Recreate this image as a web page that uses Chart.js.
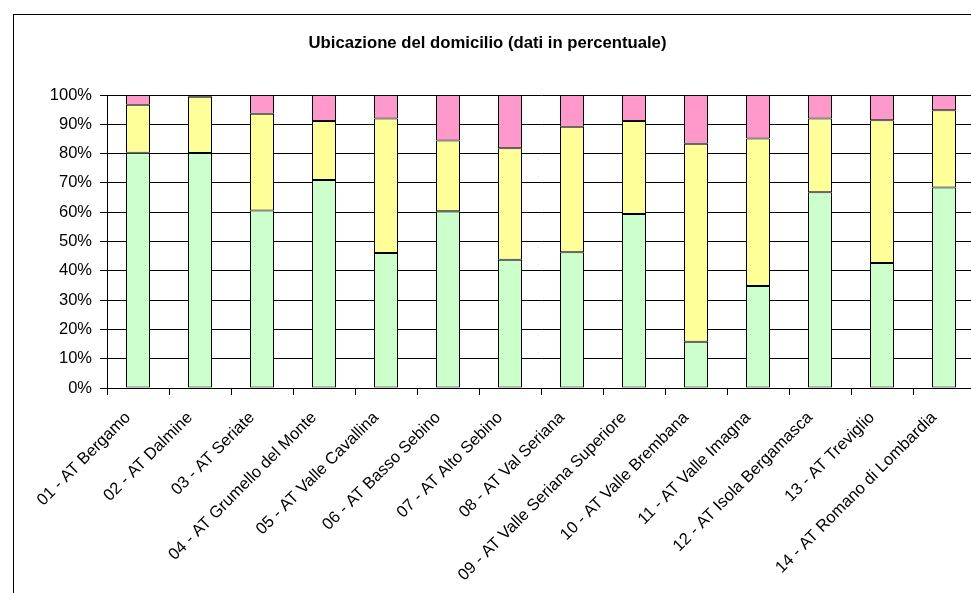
<!DOCTYPE html>
<html lang="it">
<head>
<meta charset="utf-8">
<title>Ubicazione del domicilio</title>
<script src="https://cdn.jsdelivr.net/npm/chart.js@4.4.1/dist/chart.umd.min.js"></script>
<style>
  html, body {
    margin: 0;
    padding: 0;
    background: #fff;
    overflow: hidden;
  }
  #frame {
    position: absolute;
    left: 13px;
    top: 14px;
    width: 1200px;
    height: 800px;
    border: 1px solid #000;
  }
  #chart {
    position: absolute;
    left: 0;
    top: 0;
  }
</style>
</head>
<body>
<div id="frame"></div>
<canvas id="chart" width="975" height="600"></canvas>
<script>
const categories = [
  "01 - AT Bergamo",
  "02 - AT Dalmine",
  "03 - AT Seriate",
  "04 - AT Grumello del Monte",
  "05 - AT Valle Cavallina",
  "06 - AT Basso Sebino",
  "07 - AT Alto Sebino",
  "08 - AT Val Seriana",
  "09 - AT Valle Seriana Superiore",
  "10 - AT Valle Brembana",
  "11 - AT Valle Imagna",
  "12 - AT Isola Bergamasca",
  "13 - AT Treviglio",
  "14 - AT Romano di Lombardia",
];

// percent shares, bottom to top
const greenValues = [80.3, 80.2, 60.6, 71.0, 46.1, 60.3, 43.8, 46.3, 59.4, 15.8, 34.8, 66.8, 42.7, 68.4];
const yellowValues = [16.4, 19.2, 33.0, 20.1, 45.9, 24.2, 38.0, 42.9, 31.7, 67.6, 50.4, 25.2, 48.7, 26.4];
const pinkValues = [3.3, 0.6, 6.4, 8.9, 8.0, 15.5, 18.2, 10.8, 8.9, 16.6, 14.8, 8.0, 8.6, 5.2];

const yTickLabels = ["0%", "10%", "20%", "30%", "40%", "50%", "60%", "70%", "80%", "90%", "100%"];

const chart = document.getElementById("chart");
const font = "'Liberation Sans', Arial, sans-serif";

function series(data, color) {
  return {
    data: data,
    backgroundColor: color,
    borderColor: "#000",
    borderWidth: 1,
    borderSkipped: false,
    inflateAmount: 0,
    barPercentage: 24 / 62,
    categoryPercentage: 1,
  };
}

new Chart(chart, {
  type: "bar",
  data: {
    labels: categories,
    datasets: [
      series(greenValues, "#ccffcc"),
      series(yellowValues, "#ffff99"),
      series(pinkValues, "#ff99cc"),
    ],
  },
  options: {
    responsive: false,
    animation: false,
    events: [],
    layout: {
      padding: 0,
    },
    plugins: {
      legend: { display: false },
      tooltip: { enabled: false },
      title: {
        display: true,
        text: "Ubicazione del domicilio (dati in percentuale)",
        color: "#000",
        font: { family: font, size: 16.7, weight: "bold" },
        padding: { top: 33, bottom: 42 },
      },
    },
    scales: {
      x: {
        stacked: true,
        afterFit: (scale) => {
          scale.height = 212;
        },
        border: { color: "#000", width: 1 },
        grid: {
          offset: true,
          drawOnChartArea: false,
          tickLength: 7,
          tickColor: "#000",
        },
        ticks: {
          color: "#000",
          font: { family: font, size: 16.5 },
          minRotation: 45,
          maxRotation: 45,
          autoSkip: false,
          padding: 13,
          labelOffset: -10,
        },
      },
      y: {
        stacked: true,
        min: 0,
        max: 100,
        afterFit: (scale) => {
          scale.width = 107;
        },
        border: { color: "#000", width: 1 },
        grid: {
          color: "#000",
          tickLength: 7,
          tickColor: "#000",
        },
        ticks: {
          stepSize: 10,
          color: "#000",
          font: { family: font, size: 16.5 },
          padding: 8,
          callback: (value, index) => yTickLabels[index],
        },
      },
    },
  },
});
</script>
</body>
</html>
